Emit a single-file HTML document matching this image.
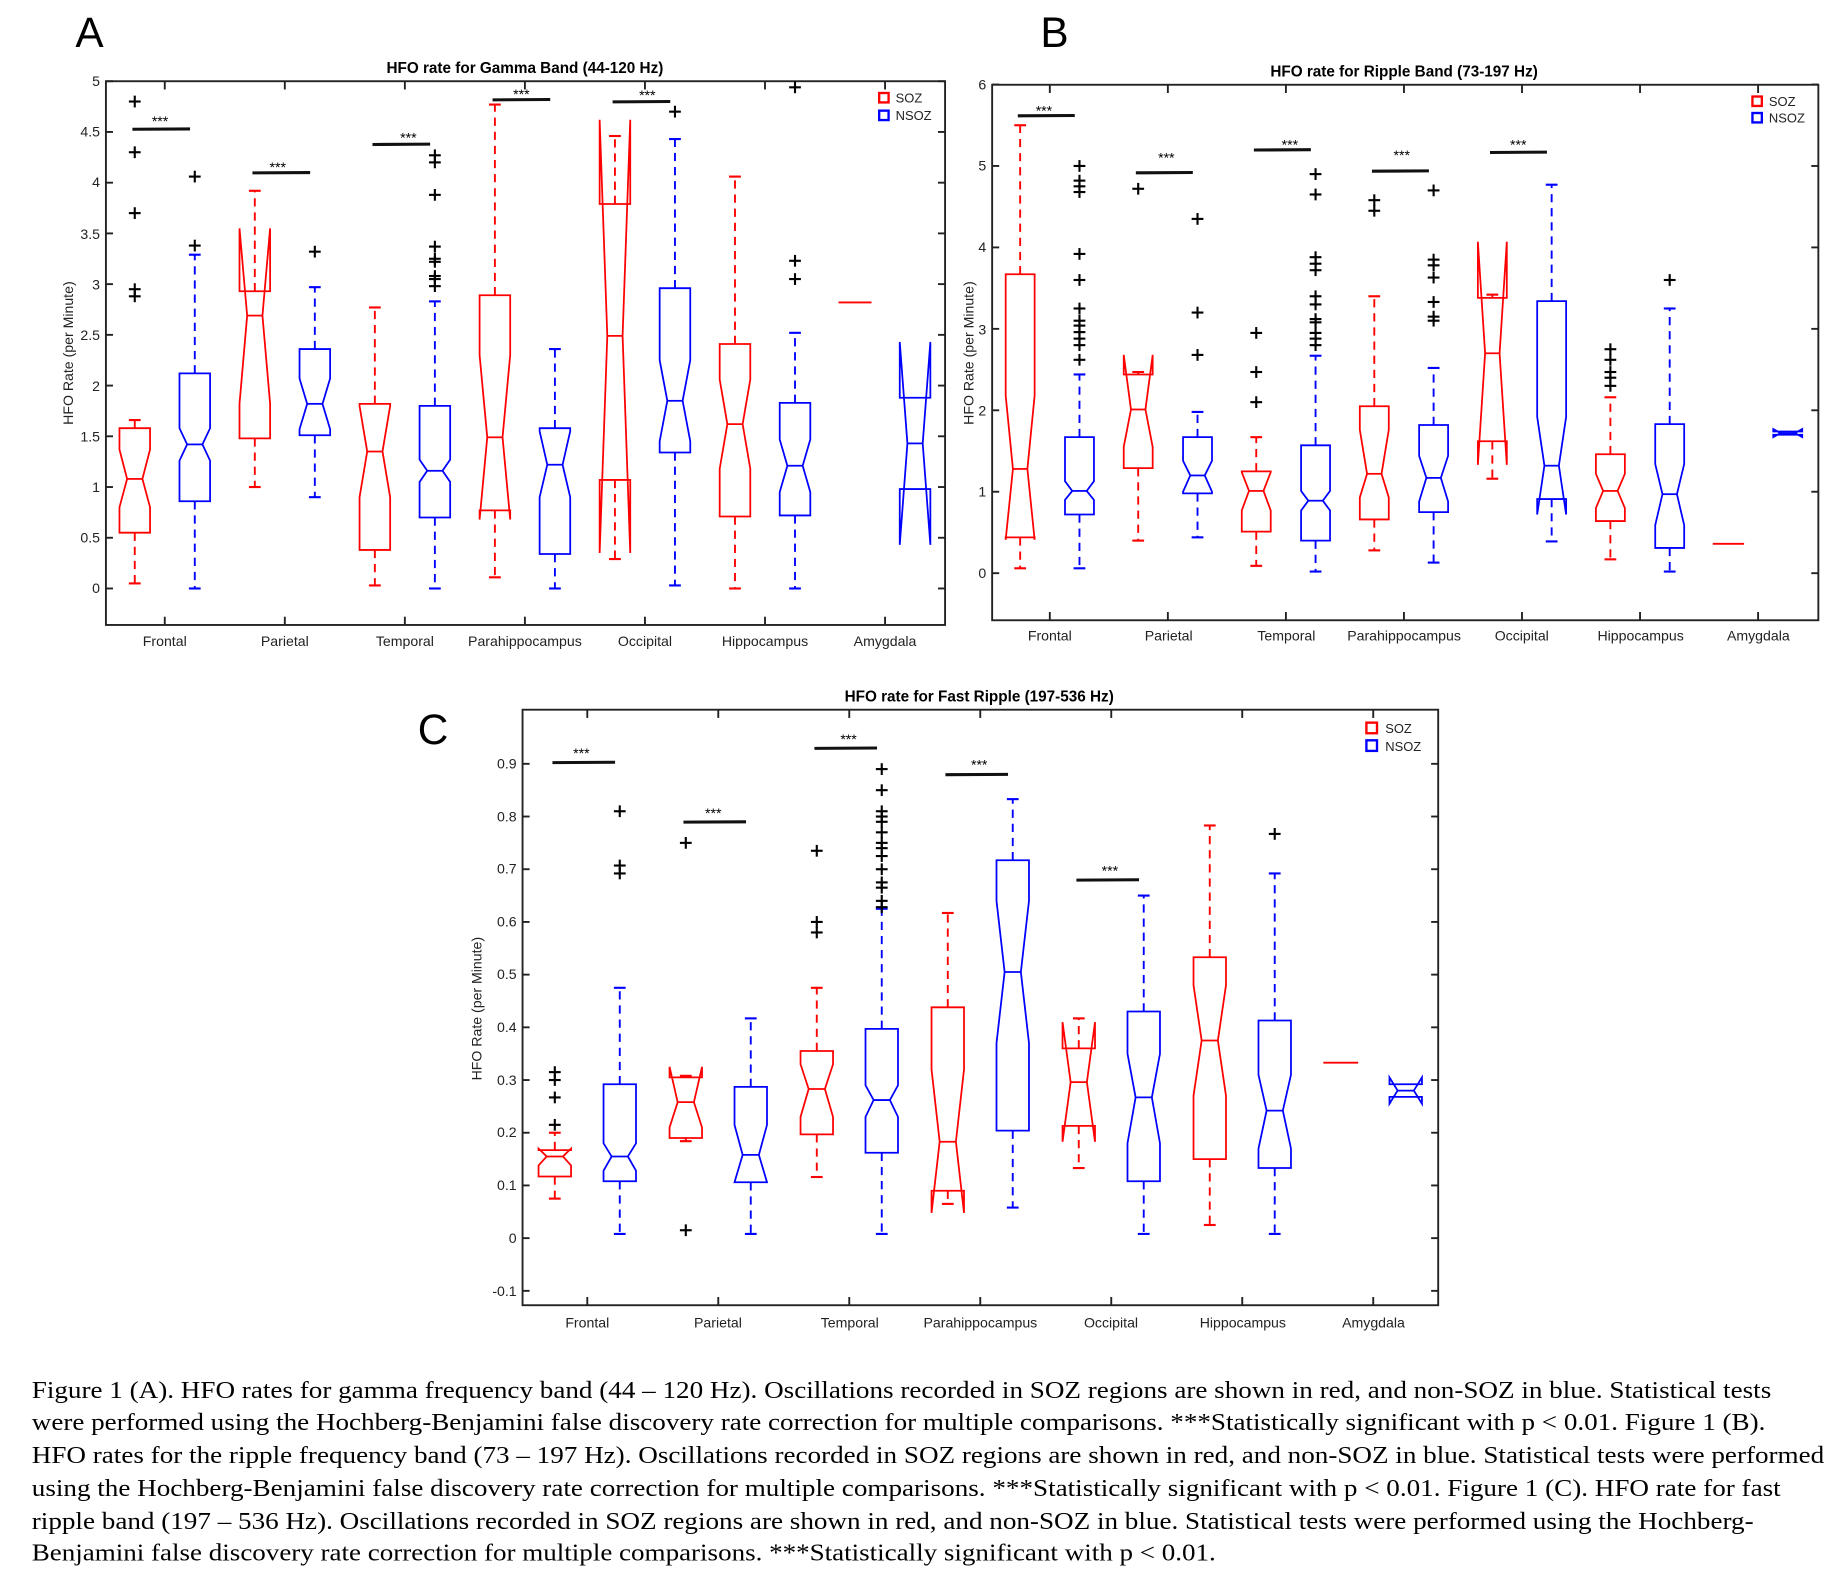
<!DOCTYPE html>
<html><head><meta charset="utf-8"><style>
html,body{margin:0;padding:0;background:#fff;}
svg{display:block;}
.t{font-family:"Liberation Sans",Arial,sans-serif;font-size:12px;fill:#222;}
.ti{font-family:"Liberation Sans",Arial,sans-serif;font-size:13px;font-weight:bold;fill:#000;}
.L{font-family:"Liberation Sans",Arial,sans-serif;font-size:36px;fill:#000;}
.cap{font-family:"Liberation Serif","Times New Roman",serif;font-size:20.5px;fill:#000;}
.st{font-family:"Liberation Sans",Arial,sans-serif;font-size:12px;fill:#000;}
</style></head><body>
<svg id="s" width="1836" height="1571" viewBox="0 0 1560 1334.8" xmlns="http://www.w3.org/2000/svg">
<rect width="1560" height="1335" fill="#fff"/>
<text class="L" x="64" y="40">A</text>
<text class="L" x="884" y="40">B</text>
<text class="L" x="355" y="632">C</text>
<text class="ti" x="446" y="62" text-anchor="middle">HFO rate for Gamma Band (44-120 Hz)</text>
<text class="ti" x="1193" y="65" text-anchor="middle">HFO rate for Ripple Band (73-197 Hz)</text>
<text class="ti" x="832" y="596" text-anchor="middle">HFO rate for Fast Ripple (197-536 Hz)</text>
<text class="t" transform="translate(62,300) rotate(-90)" text-anchor="middle">HFO Rate (per Minute)</text>
<text class="t" transform="translate(827,300) rotate(-90)" text-anchor="middle">HFO Rate (per Minute)</text>
<text class="t" transform="translate(409,857) rotate(-90)" text-anchor="middle">HFO Rate (per Minute)</text>
<g id="A_y" class="t" text-anchor="end">
<text x="85" y="504">0</text><text x="85" y="461">0.5</text><text x="85" y="418">1</text><text x="85" y="375">1.5</text><text x="85" y="332">2</text><text x="85" y="289">2.5</text><text x="85" y="246">3</text><text x="85" y="203">3.5</text><text x="85" y="159">4</text><text x="85" y="116">4.5</text><text x="85" y="73">5</text>
</g>
<g class="t" text-anchor="end">
<text x="838" y="491">0</text><text x="838" y="422">1</text><text x="838" y="353">2</text><text x="838" y="284">3</text><text x="838" y="214">4</text><text x="838" y="145">5</text><text x="838" y="76">6</text>
</g>
<g class="t" text-anchor="end">
<text x="439" y="1101">-0.1</text><text x="439" y="1056">0</text><text x="439" y="1011">0.1</text><text x="439" y="966">0.2</text><text x="439" y="922">0.3</text><text x="439" y="877">0.4</text><text x="439" y="832">0.5</text><text x="439" y="787">0.6</text><text x="439" y="742">0.7</text><text x="439" y="698">0.8</text><text x="439" y="653">0.9</text>
</g>
<g class="t" text-anchor="middle">
<text x="140" y="549">Frontal</text><text x="242" y="549">Parietal</text><text x="344" y="549">Temporal</text><text x="446" y="549">Parahippocampus</text><text x="548" y="549">Occipital</text><text x="650" y="549">Hippocampus</text><text x="752" y="549">Amygdala</text>
<text x="892" y="544">Frontal</text><text x="993" y="544">Parietal</text><text x="1093" y="544">Temporal</text><text x="1193" y="544">Parahippocampus</text><text x="1293" y="544">Occipital</text><text x="1394" y="544">Hippocampus</text><text x="1494" y="544">Amygdala</text>
<text x="499" y="1128">Frontal</text><text x="610" y="1128">Parietal</text><text x="722" y="1128">Temporal</text><text x="833" y="1128">Parahippocampus</text><text x="944" y="1128">Occipital</text><text x="1056" y="1128">Hippocampus</text><text x="1167" y="1128">Amygdala</text>
</g>
<g class="t" style="font-size:11px">
<rect x="747" y="79" width="8" height="8" fill="none" stroke="#f00" stroke-width="2"/><text x="761" y="87">SOZ</text>
<rect x="747" y="94" width="8" height="8" fill="none" stroke="#00f" stroke-width="2"/><text x="761" y="102">NSOZ</text>
<rect x="1489" y="82" width="8" height="8" fill="none" stroke="#f00" stroke-width="2"/><text x="1503" y="90">SOZ</text>
<rect x="1489" y="96" width="8" height="8" fill="none" stroke="#00f" stroke-width="2"/><text x="1503" y="104">NSOZ</text>
<rect x="1161" y="614" width="9" height="9" fill="none" stroke="#f00" stroke-width="2"/><text x="1177" y="623">SOZ</text>
<rect x="1161" y="629" width="9" height="9" fill="none" stroke="#00f" stroke-width="2"/><text x="1177" y="638">NSOZ</text>
</g>
<g class="st" text-anchor="middle" id="stars">
<text x="136" y="107">***</text><text x="236" y="146">***</text><text x="347" y="121">***</text><text x="443" y="84">***</text><text x="550" y="85">***</text>
<text x="887" y="98">***</text><text x="991" y="138">***</text><text x="1096" y="127">***</text><text x="1191" y="136">***</text><text x="1290" y="127">***</text>
<text x="494" y="644">***</text><text x="606" y="695">***</text><text x="721" y="632">***</text><text x="832" y="654">***</text><text x="943" y="744">***</text>
</g>
<g class="cap">
<text x="27" y="1188" textLength="1478" lengthAdjust="spacingAndGlyphs">Figure 1 (A). HFO rates for gamma frequency band (44 – 120 Hz). Oscillations recorded in SOZ regions are shown in red, and non-SOZ in blue. Statistical tests</text>
<text x="27" y="1215" textLength="1473" lengthAdjust="spacingAndGlyphs">were performed using the Hochberg-Benjamini false discovery rate correction for multiple comparisons. ***Statistically significant with p &lt; 0.01. Figure 1 (B).</text>
<text x="27" y="1243" textLength="1523" lengthAdjust="spacingAndGlyphs">HFO rates for the ripple frequency band (73 – 197 Hz). Oscillations recorded in SOZ regions are shown in red, and non-SOZ in blue. Statistical tests were performed</text>
<text x="27" y="1271" textLength="1486" lengthAdjust="spacingAndGlyphs">using the Hochberg-Benjamini false discovery rate correction for multiple comparisons. ***Statistically significant with p &lt; 0.01. Figure 1 (C). HFO rate for fast</text>
<text x="27" y="1299" textLength="1463" lengthAdjust="spacingAndGlyphs">ripple band (197 – 536 Hz). Oscillations recorded in SOZ regions are shown in red, and non-SOZ in blue. Statistical tests were performed using the Hochberg-</text>
<text x="27" y="1326" textLength="1006" lengthAdjust="spacingAndGlyphs">Benjamini false discovery rate correction for multiple comparisons. ***Statistically significant with p &lt; 0.01.</text>
</g>
<g id="g"></g>
</svg>
<script>
var NS="http://www.w3.org/2000/svg",G=document.getElementById('g');
function el(t,a){var e=document.createElementNS(NS,t);for(var k in a)e.setAttribute(k,a[k]);G.appendChild(e);return e;}
function ln(x1,y1,x2,y2,c,w,d){var a={x1:x1,y1:y1,x2:x2,y2:y2,stroke:c,'stroke-width':w||1.4};if(d)a['stroke-dasharray']=d;el('line',a);}
var P=[
{x0:90,x1:803,y0:69,y1:531,z:500,k:86.2,c0:140,cs:102,off:25.5,hw:13,yt:[0,.5,1,1.5,2,2.5,3,3.5,4,4.5,5],
sig:[4.53,4.1,4.38,4.82,4.8],
b:[[[.05,.55,1.08,1.58,.8,1.37,1.66],[2.88,2.95,3.7,4.3,4.8]],[[0,.86,1.42,2.12,1.26,1.58,3.29],[3.38,4.06]],
[[1,1.48,2.69,2.93,1.82,3.55,3.92],[]],[[.9,1.51,1.82,2.36,1.57,2.07,2.97],[3.32]],
[[.03,.38,1.35,1.82,.9,1.8,2.77],[]],[[0,.7,1.16,1.8,1.05,1.27,2.83],[2.98,3.05,3.08,3.22,3.25,3.37,3.88,4.2,4.27]],
[[.11,.77,1.49,2.89,.68,2.3,4.77],[]],[[0,.34,1.22,1.58,.9,1.55,2.36],[]],
[[.29,1.07,2.49,3.79,.35,4.62,4.46],[]],[[.03,1.34,1.85,2.96,1.45,2.25,4.43],[4.7]],
[[0,.71,1.62,2.41,1.18,2.06,4.06],[]],[[0,.72,1.21,1.83,.95,1.47,2.52],[3.05,3.23,4.94]],
['line',2.82],[[null,.98,1.43,1.88,.43,2.43,null],[]]]},
{x0:843,x1:1545,y0:72,y1:527,z:487,k:69.2,c0:892,cs:100.3,off:25.2,hw:12.3,yt:[0,1,2,3,4,5,6],
sig:[5.62,4.92,5.2,4.94,5.17],
b:[[[.06,.44,1.28,3.67,.41,2.18,5.5],[]],[[.06,.72,1.01,1.67,.9,1.13,2.44],[2.62,2.8,2.88,2.96,3.04,3.1,3.25,3.6,3.92,4.68,4.75,4.82,5]],
[[.4,1.29,2.01,2.44,1.55,2.68,2.47],[4.72]],[[.44,.98,1.2,1.67,1,1.38,1.98],[2.68,3.2,4.35]],
[[.09,.51,1.01,1.25,.77,1.24,1.67],[2.1,2.47,2.95]],[[.02,.4,.89,1.57,.77,1.01,2.67],[2.8,2.88,2.95,3.08,3.12,3.3,3.4,3.72,3.8,3.88,4.65,4.9]],
[[.28,.66,1.22,2.05,.93,1.76,3.4],[4.45,4.58]],[[.13,.75,1.17,1.82,.88,1.44,2.52],[3.1,3.15,3.33,3.63,3.78,3.85,4.7]],
[[1.16,1.62,2.7,3.38,1.33,4.07,3.42],[]],[[.39,.91,1.32,3.34,.72,1.92,4.77],[]],
[[.17,.64,1.01,1.46,.8,1.22,2.16],[2.3,2.4,2.47,2.62,2.75]],[[.02,.31,.97,1.83,.59,1.34,3.25],[3.6]],
['line',.36],[[null,1.7,1.72,1.74,1.67,1.77,null],[]]]},
{x0:444,x1:1222,y0:603,y1:1109,z:1052,k:447.8,c0:499,cs:111.3,off:27.6,hw:13.8,yt:[-.1,0,.1,.2,.3,.4,.5,.6,.7,.8,.9],
sig:[.903,.79,.93,.88,.68],
b:[[[.075,.117,.155,.167,.138,.17,.2],[.215,.267,.3,.315]],[[.008,.108,.155,.292,.128,.18,.475],[.692,.707,.81]],
[[.184,.19,.258,.305,.21,.325,.308],[.015,.75]],[[.008,.106,.158,.287,.106,.215,.417],[]],
[[.116,.197,.283,.355,.23,.33,.475],[.58,.6,.735]],[[.008,.162,.262,.397,.23,.29,.625],[.628,.64,.665,.675,.7,.725,.74,.75,.77,.79,.8,.81,.85,.89]],
[[.065,.09,.183,.438,.048,.32,.617],[]],[[.058,.204,.505,.717,.37,.64,.833],[]],
[[.133,.213,.296,.36,.183,.41,.417],[]],[[.008,.108,.267,.43,.18,.35,.65],[]],
[[.025,.15,.375,.533,.27,.48,.783],[]],[[.008,.133,.242,.413,.17,.31,.692],[.767]],
['line',.333],[[null,.268,.28,.292,.255,.305,null],[]]]}];
P.forEach(function(p){
 var Y=function(v){return p.z-p.k*v;};
 el('rect',{x:p.x0,y:p.y0,width:p.x1-p.x0,height:p.y1-p.y0,fill:'none',stroke:'#222','stroke-width':1.6});
 p.yt.forEach(function(v){var y=Y(v);ln(p.x0,y,p.x0+6,y,'#222',1.6);ln(p.x1-6,y,p.x1,y,'#222',1.6);});
 for(var i=0;i<7;i++){var cx=p.c0+i*p.cs;ln(cx,p.y1,cx,p.y1-7,'#222',1.6);ln(cx,p.y0,cx,p.y0+7,'#222',1.6);}
 p.sig.forEach(function(v,i){var cx=p.c0+i*p.cs;ln(cx-p.off-2,Y(v)+.3,cx+p.off-4,Y(v),'#111',2.6);});
 p.b.forEach(function(b,j){
  var cx=p.c0+Math.floor(j/2)*p.cs+(j%2?p.off:-p.off),col=j%2?'#00f':'#f00',h=p.hw,h2=h/2;
  if(b[0]==='line'){ln(cx-h-1,Y(b[1]),cx+h+1,Y(b[1]),col,1.6);return;}
  var d=b[0],L=cx-h,R=cx+h,q1=Y(d[1]),md=Y(d[2]),q3=Y(d[3]),nl=Y(d[4]),nh=Y(d[5]);
  var pts=[[L,q1],[L,nl],[cx-h2,md],[L,nh],[L,q3],[R,q3],[R,nh],[cx+h2,md],[R,nl],[R,q1]].map(function(a){return a.join(',');}).join(' ');
  el('polygon',{points:pts,fill:'none',stroke:col,'stroke-width':1.5});
  ln(cx-h2,md,cx+h2,md,col,1.5);
  if(d[0]!==null){var lo=Y(d[0]),hi=Y(d[6]);
   ln(cx,q3,cx,hi,col,1.6,'7,5');ln(cx,q1,cx,lo,col,1.6,'7,5');
   ln(cx-5,hi,cx+5,hi,col,1.8);ln(cx-5,lo,cx+5,lo,col,1.8);}
  b[1].forEach(function(v){var y=Y(v);ln(cx-5,y,cx+5,y,'#000',1.8);ln(cx,y-5,cx,y+5,'#000',1.8);});
 });
});
</script>
</body></html>
